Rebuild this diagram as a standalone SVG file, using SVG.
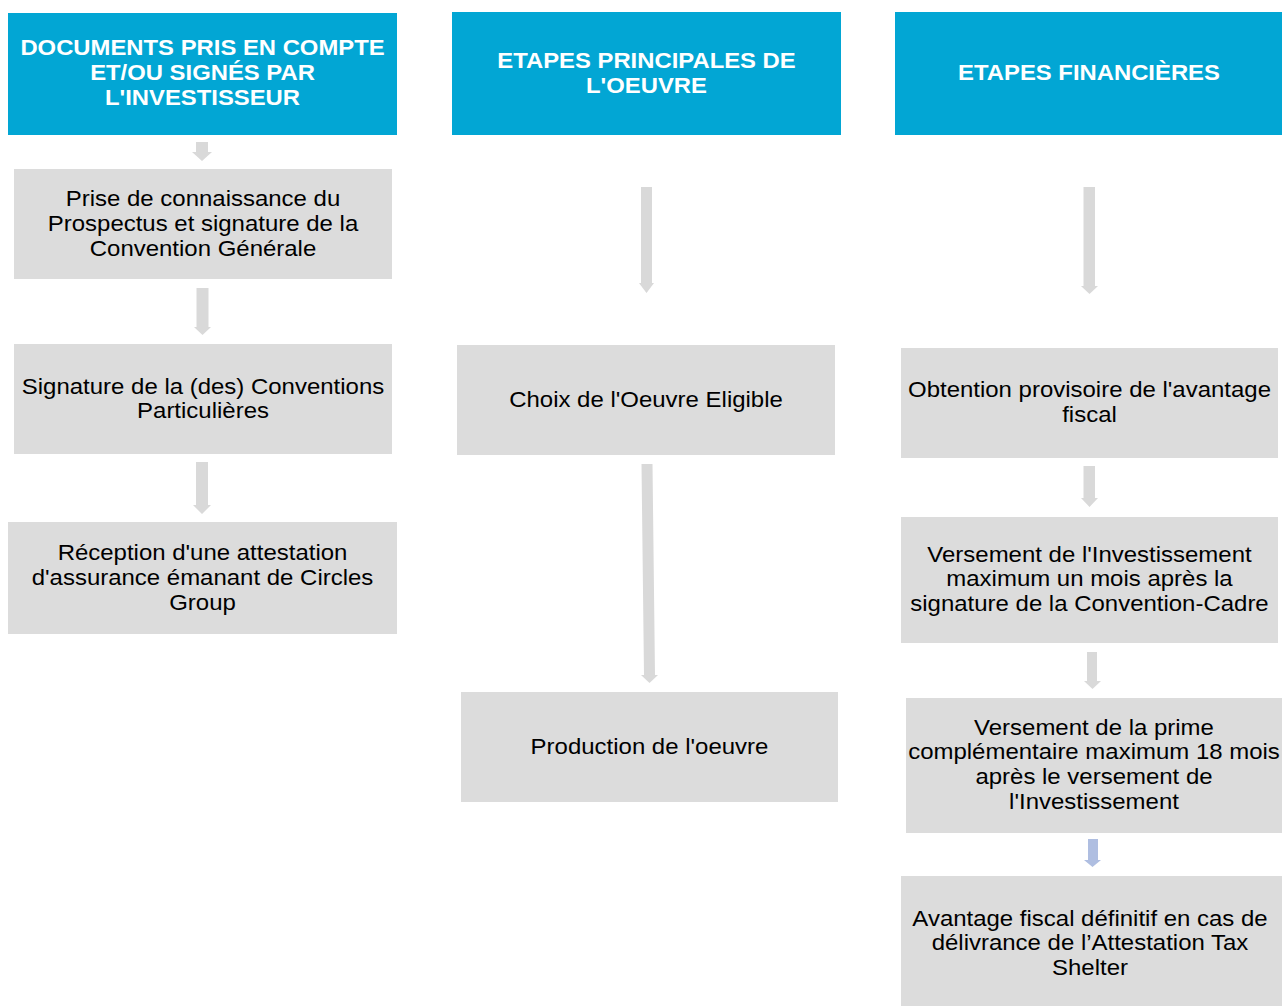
<svg xmlns="http://www.w3.org/2000/svg" width="1282" height="1006" viewBox="0 0 1282 1006">
<style>
.hdr{fill:#02A6D4}
.box{fill:#DCDCDC}
.arr{fill:#D9D9D9}
.arrb{fill:#AFBEE1}
.ht{font-family:"Liberation Sans",Arial,sans-serif;font-weight:bold;font-size:22.5px;fill:#FFFFFF;text-anchor:middle}
.bt{font-family:"Liberation Sans",Arial,sans-serif;font-size:22px;fill:#000000;text-anchor:middle}
</style>
<rect width="1282" height="1006" fill="#FFFFFF"/>
<g id="connectors">
<polygon class="arr" points="196,142 208,142 208,152 212,152 202,161 192,152 196,152"/>
<polygon class="arr" points="196.5,288 208.5,288 208.5,327 211,327 202.5,335 194,327 196.5,327"/>
<polygon class="arr" points="196,462 208,462 208,505 211,505 202,514 193,505 196,505"/>
<polygon class="arr" points="641,187 652,187 652,283 654,283 646.5,293 639,283 641,283"/>
<polygon class="arr" points="641.5,464 652.5,464 655,675 658,675 649.5,683 641,675 644,675"/>
<polygon class="arr" points="1083.5,187 1095,187 1095,286 1098,286 1089.5,294 1081,286 1083.5,286"/>
<polygon class="arr" points="1083.5,466 1095,466 1095,498 1098,498 1089.5,507 1081,498 1083.5,498"/>
<polygon class="arr" points="1087,652 1097,652 1097,681 1101,681 1092.5,689 1084,681 1087,681"/>
<polygon class="arrb" points="1088,839 1098,839 1098,860 1101,860 1092.5,867 1084,860 1088,860"/>
</g>
<g id="h1"><rect class="hdr" x="8" y="13" width="389" height="122"/>
<text class="ht" transform="translate(202.5 0) scale(1.06 1)"><tspan x="0" y="55">DOCUMENTS PRIS EN COMPTE</tspan><tspan x="0" y="80">ET/OU SIGNÉS PAR</tspan><tspan x="0" y="105">L'INVESTISSEUR</tspan></text></g>
<g id="h2"><rect class="hdr" x="452" y="12" width="389" height="123"/>
<text class="ht" transform="translate(646.5 0) scale(1.06 1)"><tspan x="0" y="68">ETAPES PRINCIPALES DE</tspan><tspan x="0" y="93">L'OEUVRE</tspan></text></g>
<g id="h3"><rect class="hdr" x="895" y="12" width="387" height="123"/>
<text class="ht" transform="translate(1089 0) scale(1.06 1)"><tspan x="0" y="80">ETAPES FINANCIÈRES</tspan></text></g>
<g id="n1"><rect class="box" x="14" y="169" width="378" height="110"/>
<text class="bt" transform="translate(203 0) scale(1.09 1)"><tspan x="0" y="206">Prise de connaissance du</tspan><tspan x="0" y="231">Prospectus et signature de la</tspan><tspan x="0" y="256">Convention Générale</tspan></text></g>
<g id="n2"><rect class="box" x="14" y="344" width="378" height="110"/>
<text class="bt" transform="translate(203 0) scale(1.09 1)"><tspan x="0" y="394">Signature de la (des) Conventions</tspan><tspan x="0" y="418">Particulières</tspan></text></g>
<g id="n3"><rect class="box" x="8" y="522" width="389" height="112"/>
<text class="bt" transform="translate(202.5 0) scale(1.09 1)"><tspan x="0" y="560">Réception d'une attestation</tspan><tspan x="0" y="585">d'assurance émanant de Circles</tspan><tspan x="0" y="610">Group</tspan></text></g>
<g id="n4"><rect class="box" x="457" y="345" width="378" height="110"/>
<text class="bt" transform="translate(646 0) scale(1.09 1)"><tspan x="0" y="407">Choix de l'Oeuvre Eligible</tspan></text></g>
<g id="n5"><rect class="box" x="461" y="692" width="377" height="110"/>
<text class="bt" transform="translate(649.5 0) scale(1.09 1)"><tspan x="0" y="754">Production de l'oeuvre</tspan></text></g>
<g id="n6"><rect class="box" x="901" y="348" width="377" height="110"/>
<text class="bt" transform="translate(1089.5 0) scale(1.09 1)"><tspan x="0" y="397">Obtention provisoire de l'avantage</tspan><tspan x="0" y="422">fiscal</tspan></text></g>
<g id="n7"><rect class="box" x="901" y="517" width="377" height="126"/>
<text class="bt" transform="translate(1089.5 0) scale(1.09 1)"><tspan x="0" y="562">Versement de l'Investissement</tspan><tspan x="0" y="586">maximum un mois après la</tspan><tspan x="0" y="611">signature de la Convention-Cadre</tspan></text></g>
<g id="n8"><rect class="box" x="906" y="698" width="376" height="135"/>
<text class="bt" transform="translate(1094 0) scale(1.09 1)"><tspan x="0" y="735">Versement de la prime</tspan><tspan x="0" y="759">complémentaire maximum 18 mois</tspan><tspan x="0" y="784">après le versement de</tspan><tspan x="0" y="809">l'Investissement</tspan></text></g>
<g id="n9"><rect class="box" x="901" y="876" width="381" height="130"/>
<text class="bt" transform="translate(1090 0) scale(1.09 1)"><tspan x="0" y="926">Avantage fiscal définitif en cas de</tspan><tspan x="0" y="950">délivrance de l’Attestation Tax</tspan><tspan x="0" y="975">Shelter</tspan></text></g>
</svg>
